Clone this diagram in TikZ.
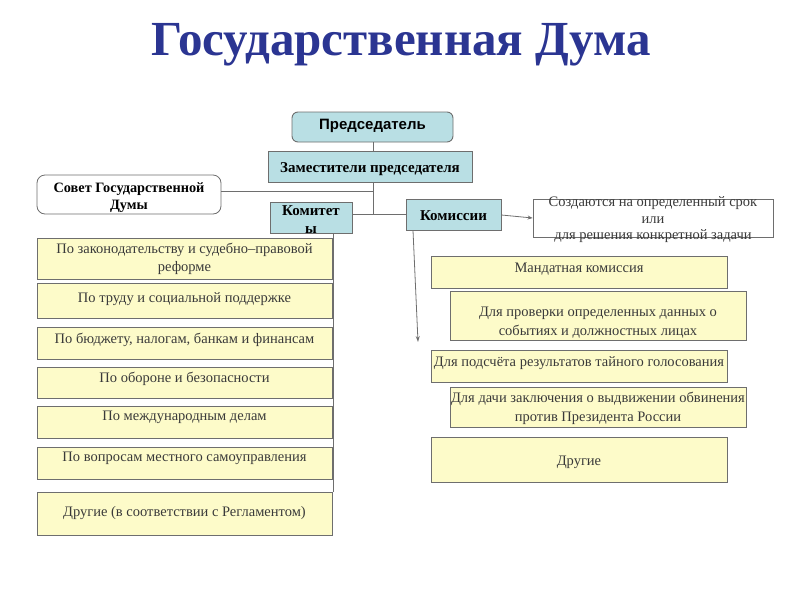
\documentclass[tikz,border=0pt]{standalone}
\usepackage{fontspec}
\setmainfont{Liberation Serif}
\newfontfamily\arialfont{Liberation Sans}
\usetikzlibrary{positioning, arrows.meta}
\definecolor{titleblue}{HTML}{2B3592}
\definecolor{boxblue}{HTML}{B9DFE4}
\definecolor{boxyellow}{HTML}{FDFBC9}
\definecolor{boxline}{HTML}{6E6E6E}
\definecolor{txtgray}{HTML}{3A3A3A}
\tikzset{bluebox/.style={draw=boxline, fill=boxblue, line width=0.9pt, inner sep=0pt, font=\bfseries\fontsize{15}{18}\selectfont}}
\tikzset{ybox/.style={draw=boxline, fill=boxyellow, line width=0.8pt, inner sep=0pt}}
\tikzset{ytext/.style={inner sep=0pt, align=center, text=txtgray, font=\fontsize{14.5}{19}\selectfont}}
\tikzset{conn/.style={draw=boxline, line width=0.8pt}}

\begin{document}
\begin{tikzpicture}[x=1pt, y=-1pt]
                        \useasboundingbox (0, 0) rectangle (800, 600);

                        \node[inner sep=0pt, text=titleblue, font=\bfseries\fontsize{49}{52}\selectfont] (title) at (401, 45) {Государственная Дума};

                        \node[bluebox, rounded corners=6pt, minimum width=161, minimum height=30, text height=9, text depth=4, font=\arialfont\bfseries\fontsize{15}{18}\selectfont] (pred) at (372.5, 127) {Председатель};
                        \node[bluebox, minimum width=204, minimum height=31, text height=13, text depth=2] (zam) at (370, 166.5) {Заместители председателя};
                        \node[draw=boxline, fill=white, rounded corners=8pt, line width=0.8pt, minimum width=184, minimum height=39] (sov) at (129, 194.5) {};
                        \node[inner sep=0pt, align=center, font=\bfseries\fontsize{14.3}{17}\selectfont] (sovt) at ([yshift=-3]sov.center) {Совет Государственной\\Думы};
                        \node[bluebox, minimum width=82, minimum height=31] (komt) at (311, 217.5) {};
                        \node[inner sep=0pt, align=center, font=\bfseries\fontsize{15}{18}\selectfont] (komtt) at ([yshift=-2]komt.center) {Комитет\\ы};
                        \node[bluebox, minimum width=95, minimum height=31, text height=13, text depth=2] (koms) at (453.5, 215) {Комиссии};
                        \node[draw=boxline, fill=white, line width=0.8pt, minimum width=240, minimum height=38] (srok) at (653, 218) {};
                        \node[inner sep=0pt, align=center, text=txtgray, font=\fontsize{14.5}{16.5}\selectfont] (srokt) at ([yshift=-2]srok.center) {Создаются на определенный срок\\или\\для решения конкретной задачи};

                        \coordinate (j1) at (373, 214);
                        \coordinate (j2) at (373, 191);
                        \coordinate (d1) at (413, 230.5);
                        \coordinate (d2) at (418, 342);
                        \coordinate (v1) at (333, 233);
                        \coordinate (v2) at (333, 492);

                        \draw[conn] (j1 |- pred.south) -- (j1 |- zam.north);
                        \draw[conn] (j1 |- zam.south) -- (j1);
                        \draw[conn] (sov.east |- j2) -- (j2);
                        \draw[conn] (komt.east |- j1) -- (koms.west |- j1);
                        \draw[conn, -{Stealth[length=5pt, width=4pt]}] (koms.east) -- (srok.west);
                        \draw[conn, -{Stealth[length=6pt, width=4pt, open]}] (d1) -- (d2);

                        % committees
                        \node[ybox, minimum width=295, minimum height=41] (k1) at (184.5, 258.5) {};
                        \node[ybox, minimum width=295, minimum height=35] (k2) at (184.5, 301) {};
                        \node[ybox, minimum width=295, minimum height=32] (k3) at (184.5, 343) {};
                        \node[ybox, minimum width=295, minimum height=31] (k4) at (184.5, 382.5) {};
                        \node[ybox, minimum width=295, minimum height=32] (k5) at (184.5, 422) {};
                        \node[ybox, minimum width=295, minimum height=32] (k6) at (184.5, 463) {};
                        \node[ybox, minimum width=295, minimum height=43] (k7) at (184.5, 513.5) {};

                        \node[ytext, font=\fontsize{14.5}{18}\selectfont, below=5pt of k1.north] (k1t) {По законодательству и судебно–правовой\\реформе};
                        \node[ytext, below=9pt of k2.north] (k2t) {По труду и социальной поддержке};
                        \node[ytext, below=6pt of k3.north] (k3t) {По бюджету, налогам, банкам и финансам};
                        \node[ytext, below=5pt of k4.north] (k4t) {По обороне и безопасности};
                        \node[ytext, below=5pt of k5.north] (k5t) {По международным делам};
                        \node[ytext, below=5pt of k6.north] (k6t) {По вопросам местного самоуправления};
                        \node[ytext] (k7t) at (k7) {Другие (в соответствии с Регламентом)};

                        \draw[conn] (v1) -- (v2);

                        % commissions
                        \node[ybox, minimum width=296, minimum height=32] (c1) at (579, 272) {};
                        \node[ybox, minimum width=296, minimum height=49] (c2) at (598, 315.5) {};
                        \node[ybox, minimum width=296, minimum height=32] (c3) at (579, 366) {};
                        \node[ybox, minimum width=296, minimum height=40] (c4) at (598, 407) {};
                        \node[ybox, minimum width=296, minimum height=45] (c5) at (579, 459.5) {};

                        \node[ytext, below=7pt of c1.north] (c1t) {Мандатная комиссия};
                        \node[ytext, below=16pt of c2.north] (c2t) {Для проверки определенных данных о\\событиях и должностных лицах};
                        \node[ytext, below=7pt of c3.north] (c3t) {Для подсчёта результатов тайного голосования};
                        \node[ytext, below=5pt of c4.north] (c4t) {Для дачи заключения о выдвижении обвинения\\против Президента России};
                        \node[ytext, yshift=-3] (c5t) at (c5) {Другие};
                    \end{tikzpicture}
\end{document}
